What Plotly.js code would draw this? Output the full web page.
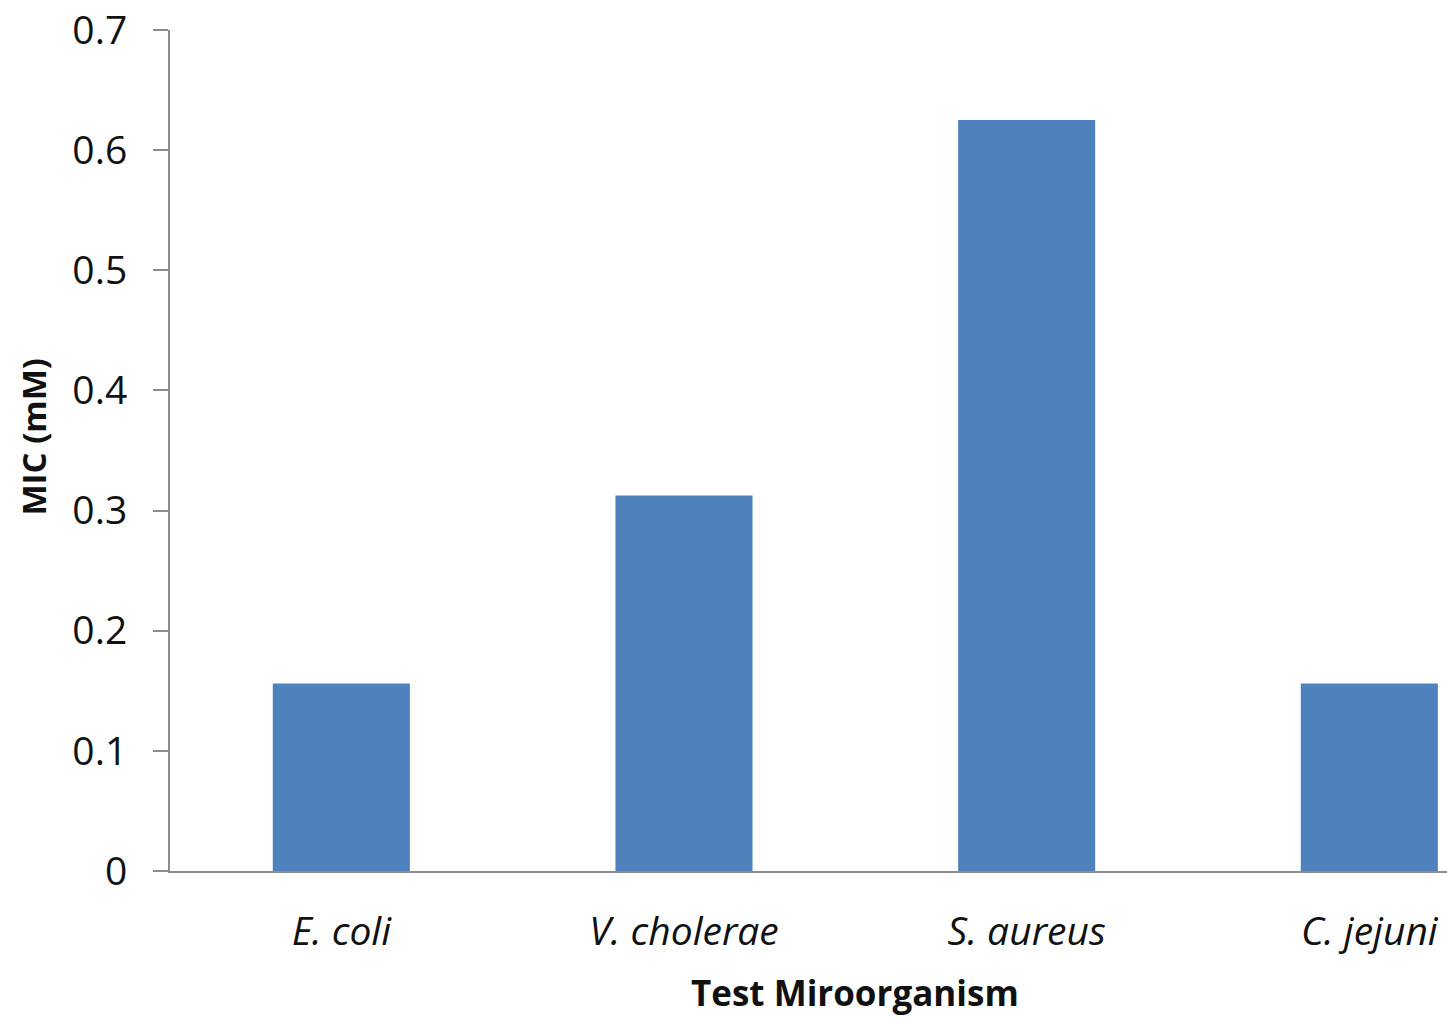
<!DOCTYPE html>
<html>
<head>
<meta charset="utf-8">
<script src="https://cdn.plot.ly/plotly-3.0.1.min.js"></script>
<style>html,body{margin:0;padding:0;background:#fff;}#chart{width:1447px;height:1018px;}</style>
</head>
<body>
<div id="chart"></div>
<script>
const categories = ["<i>E. coli</i>", "<i>V. cholerae</i>", "<i>S. aureus</i>", "<i>C. jejuni</i>"];
const micValues = [0.156, 0.3125, 0.625, 0.156];
const yTickValues = [0, 0.1, 0.2, 0.3, 0.4, 0.5, 0.6, 0.7];
const yTickLabels = ["0", "0.1", "0.2", "0.3", "0.4", "0.5", "0.6", "0.7"];
const xTitle = "Test Miroorganism";
const yTitle = "MIC (mM)";

const font = "'Open Sans', Lato, sans-serif";

const trace = {
  type: "bar",
  x: [0, 1, 2, 3],
  y: micValues,
  width: 0.4,
  marker: {color: "#4F81BD", line: {width: 0}},
  hoverinfo: "skip"
};

const layout = {
  width: 1447, height: 1018,
  margin: {l: 170, r: 0, t: 30, b: 147},
  paper_bgcolor: "#fff", plot_bgcolor: "#fff",
  showlegend: false,
  bargap: 0.6,
  xaxis: {
    range: [-0.5, 3.2267],
    tickmode: "array",
    tickvals: [0, 1, 2, 3],
    ticktext: categories,
    ticks: "",
    showgrid: false,
    zeroline: false,
    showline: true,
    linecolor: "#8c8c8c",
    linewidth: 2,
    tickfont: {family: font, size: 39, color: "#111"},
    ticklabelstandoff: 25
  },
  yaxis: {
    range: [0, 0.7],
    tickmode: "array",
    tickvals: yTickValues,
    ticktext: yTickLabels,
    ticks: "outside",
    ticklen: 15,
    tickwidth: 2,
    tickcolor: "#8c8c8c",
    showgrid: false,
    zeroline: false,
    showline: true,
    linecolor: "#8c8c8c",
    linewidth: 2,
    tickfont: {family: font, size: 39, color: "#111"},
    ticklabelstandoff: 18
  },
  shapes: [{
    type: "line", xref: "paper", yref: "y",
    x0: -15/1277, x1: 0, y0: 0, y1: 0,
    line: {color: "#8c8c8c", width: 2}
  }],
  annotations: [
    {text: "<b>" + xTitle + "</b>", xref: "x", yref: "paper", x: 1.5, y: 0,
     yshift: -121, showarrow: false, xanchor: "center", yanchor: "middle",
     font: {family: font, size: 35, color: "#111"}},
    {text: "<b>" + yTitle + "</b>", xref: "paper", yref: "paper", x: 0, y: 0.5,
     xshift: -137, yshift: 14, showarrow: false, textangle: -90, xanchor: "center", yanchor: "middle",
     font: {family: font, size: 33, color: "#111"}}
  ]
};

Plotly.newPlot("chart", [trace], layout, {displayModeBar: false, staticPlot: true});
</script>
</body>
</html>
